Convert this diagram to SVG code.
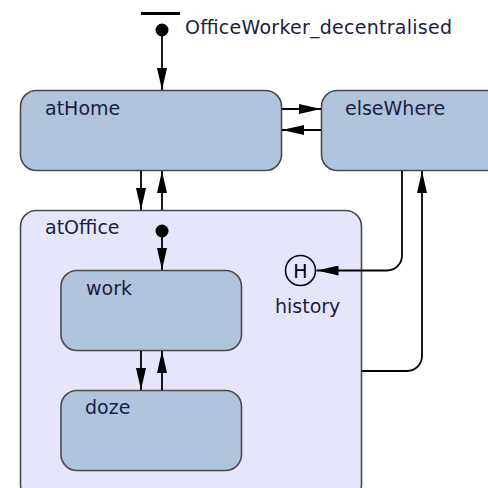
<svg xmlns="http://www.w3.org/2000/svg" width="488" height="488" viewBox="0 0 488 488">
  <style>
    .state { fill: #b0c4de; stroke: #4a4a4a; stroke-width: 1.6; }
    .composite { fill: #e6e6fa; stroke: #4a4a4a; stroke-width: 1.6; }
    .label { font-family: "DejaVu Sans", Verdana, sans-serif; font-size: 19px; fill: #1c1c44; }
    .edge { fill: none; stroke: #000; stroke-width: 1.8; marker-end: url(#arrow); }
    .dot { fill: #000; }
  </style>
  <defs>
    <marker id="arrow" markerUnits="userSpaceOnUse" markerWidth="22" markerHeight="10" refX="22" refY="5" orient="auto">
      <path d="M0,0 L22,5 L0,10 Z" fill="#000"/>
    </marker>
  </defs>
  <rect width="488" height="488" fill="#fff"/>

  <!-- top-level initial pseudostate -->
  <g id="initial-top">
    <rect x="141" y="12" width="39" height="3" fill="#000"/>
    <circle class="dot" cx="162" cy="30" r="6.5"/>
    <text class="label" x="185" y="34" textLength="267" lengthAdjust="spacing">OfficeWorker_decentralised</text>
  </g>

  <g id="atHome">
    <rect class="state" x="20.5" y="90.5" width="261" height="80" rx="16"/>
    <text class="label" x="45" y="115">atHome</text>
  </g>

  <g id="elseWhere">
    <rect class="state" x="321.5" y="90.5" width="200" height="80" rx="16"/>
    <text class="label" x="345" y="115">elseWhere</text>
  </g>

  <g id="atOffice">
    <rect class="composite" x="20.5" y="210.5" width="341" height="290" rx="16"/>
    <text class="label" x="45" y="234">atOffice</text>
    <circle class="dot" cx="162" cy="231" r="6.5"/>
  </g>

  <g id="work">
    <rect class="state" x="61" y="270.5" width="180.5" height="80" rx="16"/>
    <text class="label" x="86" y="295">work</text>
  </g>

  <g id="doze">
    <rect class="state" x="61" y="390.5" width="180.5" height="80" rx="16"/>
    <text class="label" x="85" y="414">doze</text>
  </g>

  <g id="history">
    <circle cx="300.5" cy="270.5" r="15" fill="none" stroke="#000" stroke-width="1.5"/>
    <text class="label" x="300.5" y="277.5" text-anchor="middle" style="fill:#000">H</text>
    <text class="label" x="275" y="313">history</text>
  </g>

  <g id="connectors">
    <path class="edge" d="M162,30 V90"/>
    <path class="edge" d="M282,109 H321"/>
    <path class="edge" d="M321,130 H282"/>
    <path class="edge" d="M141,171 V210"/>
    <path class="edge" d="M162,210 V171"/>
    <path class="edge" d="M402,171 V255.5 A15,15 0 0 1 387,270.5 H316.5"/>
    <path class="edge" d="M362,371 H407 A15,15 0 0 0 422,356 V171"/>
    <path class="edge" d="M162,231 V270"/>
    <path class="edge" d="M141,351 V390"/>
    <path class="edge" d="M162,390 V351"/>
  </g>
</svg>
